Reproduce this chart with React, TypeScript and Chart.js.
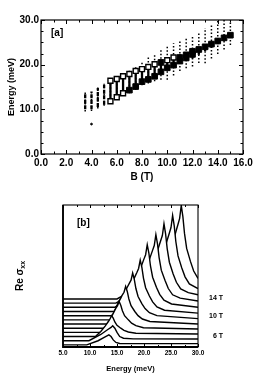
import React, { useEffect, useRef } from "react";
import { Chart, registerables } from "chart.js";
Chart.register(...registerables);

const FONT = "'Liberation Sans', Arial, sans-serif";

// ---------------- Panel (a) data ----------------
const fieldB = [3.5, 4, 4.5, 5, 5.5, 6, 6.5, 7, 7.5, 8, 8.5, 9, 9.5, 10, 10.5, 11, 11.5, 12, 12.5, 13, 13.5, 14, 14.5, 15];
const dotLo = [9.5, 9.6, 10.2, 10.8, 11.5, 12.2, 13.0, 13.6, 14.4, 15.4, 15.8, 16.3, 16.6, 16.6, 17.6, 18.6, 19.2, 19.6, 20.4, 20.3, 21.4, 22.4, 23.4, 24.4];
const dotHi = [13.9, 14.3, 15.0, 15.7, 16.8, 17.4, 18.1, 18.7, 19.6, 20.6, 21.8, 22.5, 23.4, 24.0, 24.8, 25.5, 26.1, 26.6, 27.3, 28.2, 29.0, 30.0, 30.0, 30.0];
const coreLo = [10.0, 10.0, 10.5, 11.0, 11.8, 12.7, 13.5, 14.3, 15.1, 16.2, 16.7, 17.4, 18.0, 18.9, 19.5, 20.2, 20.8, 21.4, 22.2, 23.0, 23.8, 24.6, 25.4, 26.0];
const coreHi = [13.5, 14.0, 14.8, 15.5, 16.5, 16.8, 17.4, 17.9, 18.6, 19.0, 19.5, 20.1, 20.6, 21.1, 21.7, 22.3, 22.8, 23.4, 24.0, 24.5, 25.2, 25.9, 26.6, 27.1];
const openB = [5.5, 5.5, 6, 6, 6.5, 6.5, 7, 7.5, 8, 8.5, 9, 10, 10.5];
const openE = [11.8, 16.4, 12.7, 16.8, 13.6, 17.4, 17.9, 18.6, 19.0, 19.5, 20.1, 21.0, 21.6];
const filledB = [7, 7.5, 8, 8.5, 9, 9.5, 9.5, 10, 10.5, 11, 11, 11.5, 11.5, 12, 12, 12.5, 13, 13.5, 14, 14.5, 15];
const filledE = [14.3, 15.1, 16.2, 16.7, 17.4, 18.4, 20.5, 19.3, 19.9, 20.8, 21.6, 21.5, 22.2, 22.3, 23.0, 23.4, 24.0, 24.6, 25.3, 26.0, 26.6];
const strayB = [4.0];
const strayE = [6.7];
const aXTicks = [0, 2, 4, 6, 8, 10, 12, 14, 16];
const aYTicks = [0, 10, 20, 30];

// ---------------- Panel (b) data ----------------
const spectraFields = [4, 5, 6, 7, 8, 9, 10, 11, 12, 13, 14, 15];
const spectraOffsets = [0.5, 1.5, 2.5, 3.5, 4.5, 5.5, 6.5, 7.5, 8.5, 9.5, 10.5, 11.5];
const spec4T = [[5, 0], [9.4, 0], [11.5, 1], [12.8, 1.9], [13.5, 2.4], [13.9, 2], [14.3, 1.2], [14.8, 0.6], [15.5, 0.35], [30, 0.3]];
const spec5T = [[5, 0], [9.8, 0], [12, 1.5], [13.3, 2.7], [13.9, 3.2], [14.2, 3.6], [14.6, 3], [15, 2], [15.5, 1], [16.2, 0.6], [18, 0.45], [30, 0.4]];
const spec6T = [[5, 0], [11, 0], [12, 1.2], [12.8, 2.5], [13.4, 3.6], [13.7, 4.2], [14, 5], [14.3, 4.4], [14.6, 3.5], [15, 2.7], [15.7, 2], [16.3, 1.5], [17.1, 1.1], [18.5, 0.8], [30, 0.6]];
const spec7T = [[5, 0], [12.2, 0], [13, 1.5], [13.8, 3.3], [14.4, 4.8], [14.8, 5.8], [15.1, 6.4], [15.4, 7.4], [15.7, 6.5], [16, 5.2], [16.4, 4], [17.1, 3], [17.7, 2.2], [18.5, 1.6], [19.9, 1.1], [30, 0.8]];
const spec8T = [[5, 0], [13, 0], [13.8, 1.8], [14.5, 4], [15.2, 6], [15.7, 7.2], [16, 8], [16.3, 8.6], [16.6, 10], [16.9, 8.8], [17.2, 7], [17.6, 5.4], [18.3, 4], [18.9, 3], [19.7, 2.2], [21.1, 1.6], [30, 1]];
const spec9T = [[5, 0], [13.6, 0], [14.3, 1.5], [14.9, 3.7], [15.4, 5.5], [16.3, 7.3], [16.9, 8.8], [17.3, 9.8], [17.6, 10.5], [17.9, 12.2], [18.2, 10.7], [18.5, 8.5], [18.9, 6.6], [19.6, 4.9], [20.2, 3.7], [21, 2.7], [22.4, 2], [30, 1.3]];
const spec10T = [[5, 0], [14, 0], [15.1, 1.7], [16.1, 4.3], [16.8, 6.4], [17.7, 8.6], [18.3, 10.3], [18.7, 11.4], [19, 12.3], [19.3, 14.3], [19.6, 12.6], [19.9, 10], [20.3, 7.7], [21, 5.7], [21.6, 4.3], [22.4, 3.1], [23.8, 2.3], [30, 1.6]];
const spec11T = [[5, 0], [14.2, 0], [15.8, 2], [16.9, 5.1], [18.1, 7.7], [19, 10.2], [19.6, 12.2], [20, 13.6], [20.3, 14.6], [20.6, 17], [20.9, 15], [21.2, 11.9], [21.6, 9.2], [22.3, 6.8], [22.9, 5.1], [23.7, 3.7], [25.1, 2.8], [30, 2]];
const spec12T = [[5, 0], [14.4, 0], [16.5, 2.2], [18.4, 5.5], [19.7, 8.3], [20.6, 11], [21.2, 13.2], [21.6, 14.7], [21.9, 15.8], [22.2, 18.4], [22.5, 16.2], [22.8, 12.9], [23.2, 9.9], [23.9, 7.4], [24.5, 5.5], [25.3, 4], [26.7, 3.2], [30, 2.5]];
const spec13T = [[5, 0], [14.6, 0], [17.2, 2.4], [19.6, 6], [21.2, 9], [22.1, 12], [22.7, 14.4], [23.1, 16], [23.4, 17.2], [23.7, 20], [24, 17.6], [24.3, 14], [24.7, 10.8], [25.4, 8], [26, 6], [26.8, 4.4], [28.2, 3.5], [30, 3]];
const spec14T = [[5, 0], [14.8, 0], [18, 2.5], [20.8, 6.3], [22.8, 9.5], [23.7, 12.6], [24.3, 15.1], [24.7, 16.8], [25, 18.1], [25.3, 21], [25.6, 18.5], [25.9, 14.7], [26.3, 11.3], [27, 8.4], [27.6, 6.3], [28.4, 4.6], [30, 3.5]];
const spec15T = [[5, 0], [15, 0], [18.8, 2.7], [22, 6.7], [24.4, 10.1], [25.3, 13.4], [25.9, 16.1], [26.3, 17.9], [26.6, 19.3], [26.9, 22.4], [27.2, 19.7], [27.5, 15.7], [27.9, 12.1], [28.6, 9.0], [29.2, 6.7], [30, 4.9]];
const spectra = [spec4T, spec5T, spec6T, spec7T, spec8T, spec9T, spec10T, spec11T, spec12T, spec13T, spec14T, spec15T];
const bXTicks = [5, 10, 15, 20, 25, 30];
const fieldLabels = ["14 T", "10 T", "6 T"];
const fieldLabelLevels = [11.8, 7.3, 2.5];

// ---------------- helpers ----------------
function framePlugin(cfg: any) {
  return {
    id: "frame",
    afterDatasetsDraw(chart: any) {
      const { ctx, chartArea: a } = chart;
      const xs = chart.scales.x;
      const ys = chart.scales.y;
      ctx.save();
      ctx.strokeStyle = "#000";
      ctx.lineWidth = cfg.lw;
      ctx.strokeRect(a.left, a.top, a.right - a.left, a.bottom - a.top);
      if (cfg.thickLB) {
        ctx.lineWidth = cfg.thickLB;
        ctx.beginPath();
        ctx.moveTo(a.left, a.top);
        ctx.lineTo(a.left, a.bottom);
        ctx.lineTo(a.right, a.bottom);
        ctx.stroke();
      }
      ctx.lineWidth = 1;
      ctx.beginPath();
      const isMaj = (v: number, m: number) => Math.abs(v / m - Math.round(v / m)) < 1e-6;
      if (cfg.xStep) {
        const n = Math.round((cfg.xEnd - cfg.xStart) / cfg.xStep);
        for (let i = 0; i <= n; i++) {
          const v = cfg.xStart + i * cfg.xStep;
          const px = Math.round(xs.getPixelForValue(v)) + 0.5;
          const L = isMaj(v, cfg.xMajor) ? cfg.major : cfg.minor;
          ctx.moveTo(px, a.bottom);
          ctx.lineTo(px, a.bottom - L);
          ctx.moveTo(px, a.top);
          ctx.lineTo(px, a.top + L);
        }
      }
      if (cfg.yStep) {
        const n = Math.round((cfg.yEnd - cfg.yStart) / cfg.yStep);
        for (let i = 0; i <= n; i++) {
          const v = cfg.yStart + i * cfg.yStep;
          const py = Math.round(ys.getPixelForValue(v)) + 0.5;
          const L = isMaj(v, cfg.yMajor) ? cfg.major : cfg.minor;
          ctx.moveTo(a.left, py);
          ctx.lineTo(a.left + L, py);
          ctx.moveTo(a.right, py);
          ctx.lineTo(a.right - L, py);
        }
      }
      ctx.stroke();
      ctx.restore();
    },
  };
}

function colSegments(lo: number[], hi: number[]) {
  const out: any[] = [];
  fieldB.forEach((b, i) => {
    out.push({ x: b, y: lo[i] }, { x: b, y: hi[i] }, { x: b, y: null });
  });
  return out;
}

function PanelA() {
  const ref = useRef<HTMLCanvasElement>(null);
  useEffect(() => {
    const tickFont = { family: FONT, size: 10, weight: "bold" as const };
    const labelPlugin = {
      id: "labelA",
      afterDraw(chart: any) {
        const { ctx, chartArea: a } = chart;
        ctx.save();
        ctx.fillStyle = "#000";
        ctx.font = `bold 10px ${FONT}`;
        ctx.textAlign = "left";
        ctx.textBaseline = "middle";
        ctx.fillText("[a]", a.left + 10, a.top + 13);
        ctx.restore();
      },
    };
    const chart = new Chart(ref.current!, {
      type: "scatter",
      data: {
        datasets: [
          {
            data: filledB.map((b, i) => ({ x: b, y: filledE[i] })),
            pointStyle: "rect",
            pointRadius: 4.0,
            backgroundColor: "#000",
            borderColor: "#000",
            borderWidth: 1,
          },
          {
            data: openB.map((b, i) => ({ x: b, y: openE[i] })),
            pointStyle: "rect",
            pointRadius: 3.5,
            backgroundColor: "#fff",
            borderColor: "#000",
            borderWidth: 1.4,
          },
          {
            data: colSegments(coreLo, coreHi),
            showLine: true,
            spanGaps: false,
            pointRadius: 0,
            borderColor: "#000",
            borderWidth: 2.3,
            segment: { borderDash: (c: any) => (c.p0.parsed.x < 5.2 ? [4, 1.5] : undefined) },
          } as any,
          {
            data: colSegments(dotLo, dotHi),
            showLine: true,
            spanGaps: false,
            pointRadius: 0,
            borderColor: "#000",
            borderWidth: 1.5,
            borderDash: [1.5, 2],
          },
          {
            data: strayB.map((b, i) => ({ x: b, y: strayE[i] })),
            pointRadius: 0.9,
            backgroundColor: "#000",
            borderColor: "#000",
          },
        ],
      },
      options: {
        animation: false,
        responsive: false,
        events: [],
        layout: { padding: { top: 20, right: 34, left: 0, bottom: 0 } },
        plugins: { legend: { display: false }, tooltip: { enabled: false } },
        scales: {
          x: {
            type: "linear",
            min: 0,
            max: 16,
            afterBuildTicks: (s: any) => {
              s.ticks = aXTicks.map((v) => ({ value: v }));
            },
            afterFit: (s: any) => {
              s.height = 36;
            },
            grid: { display: false, drawTicks: false },
            border: { display: false },
            ticks: {
              autoSkip: false,
              maxRotation: 0,
              padding: 3,
              color: "#000",
              font: tickFont,
              callback: (v: any) => Number(v).toFixed(1),
            },
            title: {
              display: true,
              text: "B (T)",
              color: "#000",
              font: { family: FONT, size: 10, weight: "bold" },
              padding: { top: 0, bottom: 7 },
            },
          },
          y: {
            type: "linear",
            min: 0,
            max: 30,
            afterBuildTicks: (s: any) => {
              s.ticks = aYTicks.map((v) => ({ value: v }));
            },
            afterFit: (s: any) => {
              s.width = 41;
            },
            grid: { display: false, drawTicks: false },
            border: { display: false },
            ticks: {
              autoSkip: false,
              padding: 2,
              color: "#000",
              font: tickFont,
              callback: (v: any) => Number(v).toFixed(1),
            },
            title: {
              display: true,
              text: "Energy (meV)",
              color: "#000",
              font: { family: FONT, size: 9, weight: "bold" },
              padding: { top: 6, bottom: 0 },
            },
          },
        },
      } as any,
      plugins: [
        framePlugin({ lw: 1.2, xStart: 0, xEnd: 16, xStep: 1, xMajor: 2, yStart: 0, yEnd: 30, yStep: 2.5, yMajor: 10, major: 4, minor: 2.5 }),
        labelPlugin,
      ],
    });
    return () => chart.destroy();
  }, []);
  return <canvas ref={ref} width={277} height={190} style={{ position: "absolute", left: 0, top: 0, width: 277, height: 190 }} />;
}

function PanelB() {
  const ref = useRef<HTMLCanvasElement>(null);
  useEffect(() => {
    const labelPlugin = {
      id: "labelB",
      afterDraw(chart: any) {
        const { ctx, chartArea: a } = chart;
        const ys = chart.scales.y;
        ctx.save();
        ctx.fillStyle = "#000";
        ctx.font = `bold 10px ${FONT}`;
        ctx.textAlign = "left";
        ctx.textBaseline = "middle";
        ctx.fillText("[b]", a.left + 14, a.top + 18);
        ctx.font = `bold 7px ${FONT}`;
        ctx.textAlign = "right";
        fieldLabels.forEach((t, i) => {
          ctx.fillText(t, a.right + 25, ys.getPixelForValue(fieldLabelLevels[i]));
        });
        // rotated y title: Re σ_xx
        ctx.translate(20, (a.top + a.bottom) / 2);
        ctx.rotate(-Math.PI / 2);
        ctx.textAlign = "left";
        ctx.textBaseline = "middle";
        ctx.font = `bold 10px ${FONT}`;
        const main = "Re σ";
        const wMain = ctx.measureText(main).width;
        ctx.font = `bold 7px ${FONT}`;
        const wSub = ctx.measureText("xx").width;
        const start = -(wMain + wSub) / 2;
        ctx.font = `bold 10px ${FONT}`;
        ctx.fillText(main, start, 0);
        ctx.font = `bold 7px ${FONT}`;
        ctx.fillText("xx", start + wMain, 3);
        ctx.restore();
      },
    };
    const chart = new Chart(ref.current!, {
      type: "scatter",
      data: {
        datasets: spectra.map((s, i) => ({
          label: `${spectraFields[i]} T`,
          data: s.map(([e, v]) => ({ x: e, y: v + spectraOffsets[i] })),
          showLine: true,
          pointRadius: 0,
          borderColor: "#000",
          borderWidth: 1.4,
          tension: 0,
          fill: "start",
          backgroundColor: "#fff",
        })),
      },
      options: {
        animation: false,
        responsive: false,
        events: [],
        layout: { padding: { top: 15, right: 79, left: 0, bottom: 0 } },
        plugins: { legend: { display: false }, tooltip: { enabled: false } },
        scales: {
          x: {
            type: "linear",
            min: 5,
            max: 30,
            afterBuildTicks: (s: any) => {
              s.ticks = bXTicks.map((v) => ({ value: v }));
            },
            afterFit: (s: any) => {
              s.height = 40;
            },
            grid: { display: false, drawTicks: false },
            border: { display: false },
            ticks: {
              autoSkip: false,
              maxRotation: 0,
              padding: 2,
              color: "#000",
              font: { family: FONT, size: 6.5, weight: "bold" },
              callback: (v: any) => Number(v).toFixed(1),
            },
            title: {
              display: true,
              text: "Energy (meV)",
              color: "#000",
              font: { family: FONT, size: 7.5, weight: "bold" },
              padding: { top: 0, bottom: 14 },
            },
          },
          y: {
            type: "linear",
            min: 0,
            max: 34,
            afterFit: (s: any) => {
              s.width = 63;
            },
            grid: { display: false, drawTicks: false },
            border: { display: false },
            ticks: { display: false },
          },
        },
      } as any,
      plugins: [
        framePlugin({ lw: 1.1, thickLB: 1.8, xStart: 5, xEnd: 30, xStep: 2.5, xMajor: 5, yStep: 0, major: 3, minor: 2 }),
        labelPlugin,
      ],
    });
    return () => chart.destroy();
  }, []);
  return <canvas ref={ref} width={277} height={197} style={{ position: "absolute", left: 0, top: 190, width: 277, height: 197 }} />;
}

export default function App() {
  return (
    <div style={{ position: "absolute", left: 0, top: 0, width: 277, height: 387, background: "#fff" }}>
      <PanelA />
      <PanelB />
    </div>
  );
}
